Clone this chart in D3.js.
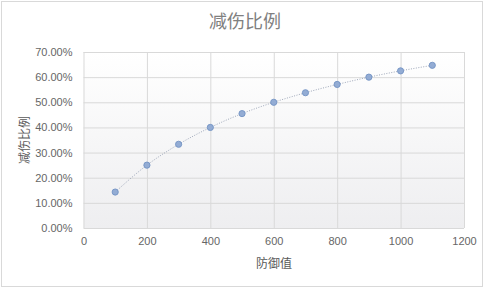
<!DOCTYPE html>
<html>
<head>
    <meta charset="utf-8">
    <style>
        body {
            margin: 0;
            background: #fff;
            font-family: "Noto Sans CJK SC", "DejaVu Sans", sans-serif;
        }

        .grid line {
            stroke: #d9d9d9;
            stroke-width: 1;
        }

        .grid .domain {
            display: none;
        }

        .axis .domain {
            display: none;
        }

        .axis .tick line {
            display: none;
        }

        .axis .tick text {
            font-family: "Liberation Sans", Arial, sans-serif;
            font-size: 11px;
            fill: #666;
        }

        .title {
            font-size: 18px;
            fill: #808080;
        }

        .axis-label {
            font-size: 12px;
            fill: #595959;
        }
    </style>
</head>

<body>
    <svg width="491" height="288"></svg>
</body>

<script src="https://cdn.jsdelivr.net/npm/d3@7"></script>

<script>
    // defence values and damage reduction
    let defence = [100, 200, 300, 400, 500, 600, 700, 800, 900, 1000, 1100]
    let reduction = [0.143, 0.25, 0.333, 0.40, 0.455, 0.50, 0.538, 0.571, 0.60, 0.625, 0.647]

    let xTicks = [0, 200, 400, 600, 800, 1000, 1200]
    let yTicks = [0, 0.1, 0.2, 0.3, 0.4, 0.5, 0.6, 0.7]

    let data = defence.map((d, i) => ({ x: d, y: reduction[i] }))

    let margin = { top: 52, right: 27, bottom: 60, left: 83.5 }

    let svg = d3.select("svg")

    // outer chart border
    svg.append("rect")
        .attr("x", 1.5)
        .attr("y", 1.5)
        .attr("width", 481)
        .attr("height", 285)
        .attr("fill", "#fff")
        .attr("stroke", "#d9d9d9")

    let x = d3.scaleLinear()
        .domain([0, 1200])
        .range([margin.left, 464])

    let y = d3.scaleLinear()
        .domain([0, 0.7])
        .range([228, margin.top])

    // plot background, slight gradient like excel
    let defs = svg.append("defs")
    let grad = defs.append("linearGradient")
        .attr("id", "bg")
        .attr("x1", 0).attr("y1", 0)
        .attr("x2", 0).attr("y2", 1)
    grad.append("stop").attr("offset", "0%").attr("stop-color", "#ffffff")
    grad.append("stop").attr("offset", "100%").attr("stop-color", "#eeeef0")

    svg.append("rect")
        .attr("x", x(0))
        .attr("y", y(0.7))
        .attr("width", x(1200) - x(0))
        .attr("height", y(0) - y(0.7))
        .attr("fill", "url(#bg)")

    // gridlines
    svg.append("g")
        .attr("class", "grid")
        .attr("transform", `translate(0,${y(0)})`)
        .call(d3.axisBottom(x).tickValues(xTicks).tickSize(-(y(0) - y(0.7))).tickFormat(""))

    svg.append("g")
        .attr("class", "grid")
        .attr("transform", `translate(${x(0)},0)`)
        .call(d3.axisLeft(y).tickValues(yTicks).tickSize(-(x(1200) - x(0))).tickFormat(""))

    // axes labels
    svg.append("g")
        .attr("class", "x axis")
        .attr("transform", `translate(0,${y(0)})`)
        .call(d3.axisBottom(x).tickValues(xTicks).tickSize(0).tickPadding(9).tickFormat(d3.format("d")))

    svg.append("g")
        .attr("class", "y axis")
        .attr("transform", `translate(${x(0)},0)`)
        .call(d3.axisLeft(y).tickValues(yTicks).tickSize(0).tickPadding(11).tickFormat(d3.format(".2%")))

    // dotted connecting line
    let line = d3.line()
        .x(d => x(d.x))
        .y(d => y(d.y))
        .curve(d3.curveMonotoneX)

    svg.append("path")
        .datum(data)
        .attr("fill", "none")
        .attr("stroke", "#9fa8ba")
        .attr("stroke-width", 1)
        .attr("stroke-dasharray", "1,1.5")
        .attr("d", line)

    svg.append("g")
        .selectAll("circle")
        .data(data)
        .join("circle")
        .attr("cx", d => x(d.x))
        .attr("cy", d => y(d.y))
        .attr("r", 3.1)
        .attr("fill", "#93acd4")
        .attr("stroke", "#7393c4")
        .attr("stroke-width", 0.9)

    svg.append("text")
        .attr("class", "title")
        .attr("x", 245)
        .attr("y", 28)
        .attr("text-anchor", "middle")
        .text("减伤比例")

    svg.append("text")
        .attr("class", "axis-label")
        .attr("x", 274)
        .attr("y", 268)
        .attr("text-anchor", "middle")
        .text("防御值")

    svg.append("text")
        .attr("class", "axis-label")
        .attr("transform", `translate(29,140) rotate(-90)`)
        .attr("text-anchor", "middle")
        .text("减伤比例")
</script>
</html>
